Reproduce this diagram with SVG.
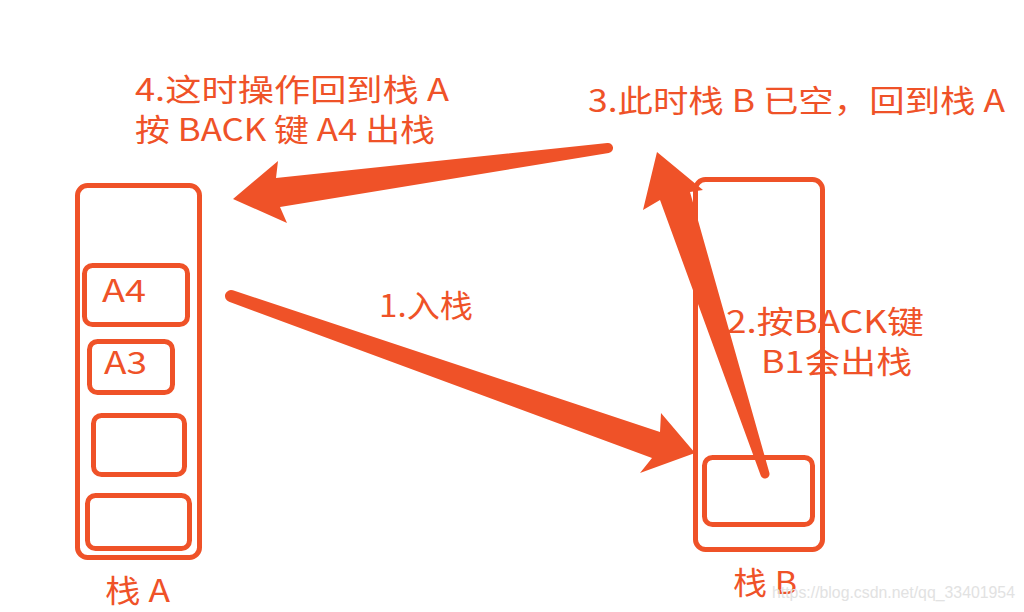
<svg xmlns="http://www.w3.org/2000/svg" width="1024" height="612" viewBox="0 0 1024 612">
<style>
.box{fill:none;stroke:#EF5228;stroke-width:5}
.lbl{fill:#EF5228;font-family:"Noto Sans CJK SC","Noto Sans",sans-serif;font-size:31px}
.arr{fill:#EF5228}
.wm{fill:#e2e2e2;font-family:"Liberation Sans",Arial,sans-serif;font-size:17px}
</style>
<rect width="1024" height="612" fill="#ffffff"/>
<g id="stackA">
<rect class="box" x="77.5" y="185.5" width="122" height="372" rx="10"/>
<text class="lbl" x="105" y="602" textLength="65" lengthAdjust="spacingAndGlyphs">栈 A</text>
</g>
<g id="itemA4">
<rect class="box" x="84.5" y="265.5" width="103" height="59" rx="8"/>
<text class="lbl" x="102" y="302" textLength="44" lengthAdjust="spacingAndGlyphs">A4</text>
</g>
<g id="itemA3">
<rect class="box" x="89.5" y="341.5" width="83" height="51" rx="8"/>
<text class="lbl" x="104" y="374" textLength="43" lengthAdjust="spacingAndGlyphs">A3</text>
</g>
<g id="itemA2">
<rect class="box" x="93.5" y="415.5" width="91" height="59" rx="8"/>
</g>
<g id="itemA1">
<rect class="box" x="87.5" y="495.5" width="102" height="53" rx="8"/>
</g>
<g id="stackB">
<rect class="box" x="695.5" y="179.5" width="127" height="370" rx="10"/>
<text class="lbl" x="733" y="594" textLength="64" lengthAdjust="spacingAndGlyphs">栈 B</text>
</g>
<g id="itemB1">
<rect class="box" x="704.5" y="457.5" width="108" height="67" rx="8"/>
</g>
<g id="connectors">
<path class="arr" d="M232.9,290.3 L660,432 L661,413 L695,453 L640,473 L652,458 L229.1,301.7 A6,6 0 0 1 232.9,290.3 Z"/>
<path class="arr" d="M769.3,472.6 L690,192 L703,190 L657,152 L643,210 L660,200 L760.7,475.4 A4.5,4.5 0 0 0 769.3,472.6 Z"/>
<path class="arr" d="M607.3,143 L276,178 L278,161 L233,199 L287,223 L280,207 L608.7,153 A5,5 0 0 0 607.3,143 Z"/>
</g>
<g id="labels">
<text class="lbl" x="135" y="101" textLength="314" lengthAdjust="spacingAndGlyphs">4.这时操作回到栈 A</text>
<text class="lbl" x="135" y="141" textLength="300" lengthAdjust="spacingAndGlyphs">按 BACK 键 A4 出栈</text>
<text class="lbl" x="588" y="112" textLength="417" lengthAdjust="spacingAndGlyphs">3.此时栈 B 已空，回到栈 A</text>
<text class="lbl" x="379" y="317" textLength="94" lengthAdjust="spacingAndGlyphs">1.入栈</text>
<text class="lbl" x="726" y="333" textLength="198" lengthAdjust="spacingAndGlyphs">2.按BACK键</text>
<text class="lbl" x="761" y="373" textLength="151" lengthAdjust="spacingAndGlyphs">B1会出栈</text>
</g>
<text class="wm" x="772" y="598" textLength="243" lengthAdjust="spacingAndGlyphs">https://blog.csdn.net/qq_33401954</text>
</svg>
